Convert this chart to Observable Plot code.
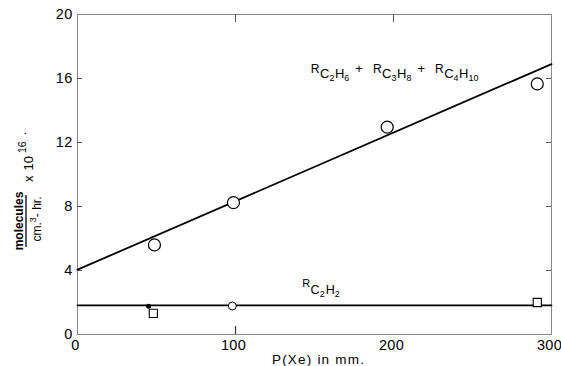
<!DOCTYPE html>
<html><head><meta charset="utf-8">
<script src="https://cdn.jsdelivr.net/npm/d3@7"></script>
<script src="https://cdn.jsdelivr.net/npm/@observablehq/plot@0.6"></script>
<style>body{margin:0;background:#fff} svg{display:block}</style>
</head><body><div id="chart"></div>
<script>
// ---- data ----
const xTicks = [0, 100, 200, 300];
const yTicks = [0, 4, 8, 12, 16, 20];
const innerYTicks = [4, 8, 12, 16];
const bottomInnerTicks = [100];
const topInnerTicks = [100, 200];

// fitted lines (endpoints)
const fitTotalX = [0, 300];
const fitTotalY = [4.05, 16.9];
const fitC2H2X = [0, 300];
const fitC2H2Y = [1.82, 1.82];

// R(C2H6)+R(C3H8)+R(C4H10): open circles
const totalP = [48.7, 98.7, 196, 291];
const totalR = [5.6, 8.24, 12.96, 15.66];

// R(C2H2): open squares, small circle, filled dot
const c2h2SqP = [48, 291];
const c2h2SqR = [1.32, 2.0];
const c2h2CircP = [98];
const c2h2CircR = [1.78];
const c2h2DotP = [45];
const c2h2DotR = [1.76];

const xLabel = "P(Xe) in mm.";

// ---- build ----
const zip = (xs, ys) => xs.map((x, i) => ({x, y: ys[i]}));
const W = 561, H = 366;
const font = "'Liberation Sans', Arial, Helvetica, sans-serif";

const chart = Plot.plot({
  width: W, height: H,
  marginLeft: 77, marginRight: 10, marginTop: 14, marginBottom: 32,
  style: {fontFamily: font, background: "#fff", color: "#000"},
  x: {domain: [0, 300]},
  y: {domain: [0, 20]},
  marks: [
    Plot.frame({stroke: "#8a8a8a", strokeWidth: 1}),
    // inward ticks
    Plot.ruleY(innerYTicks, {y: d => d, insetRight: 469, stroke: "#555"}),
    Plot.ruleY(innerYTicks, {y: d => d, insetLeft: 469, stroke: "#555"}),
    Plot.ruleX(bottomInnerTicks, {x: d => d, insetTop: 312, stroke: "#333", strokeWidth: 1.2}),
    Plot.ruleX(topInnerTicks, {x: d => d, insetBottom: 312, stroke: "#555"}),
    Plot.axisX({ticks: xTicks, tickSize: 0, tickPadding: 5, fontSize: 14.5, dx: -2, label: null, tickFormat: d => String(d)}),
    Plot.axisY({ticks: yTicks, tickSize: 0, tickPadding: 5, fontSize: 14.5, label: null, tickFormat: d => String(d)}),
    Plot.text([xLabel], {frameAnchor: "bottom", dy: 25, dx: 4, fontSize: 13.5, text: d => d, lineAnchor: "middle"}),
    // fitted lines
    Plot.line(zip(fitTotalX, fitTotalY), {x: "x", y: "y", stroke: "#000", strokeWidth: 1.8}),
    Plot.line(zip(fitC2H2X, fitC2H2Y), {x: "x", y: "y", stroke: "#000", strokeWidth: 1.8}),
    // points
    Plot.dot(zip(totalP, totalR), {x: "x", y: "y", r: 6, stroke: "#000", fill: "#fff", strokeWidth: 1.2}),
    Plot.dot(zip(c2h2SqP, c2h2SqR), {x: "x", y: "y", symbol: "square", r: 4.6, stroke: "#000", fill: "#fff", strokeWidth: 1.1}),
    Plot.dot(zip(c2h2CircP, c2h2CircR), {x: "x", y: "y", r: 4, stroke: "#000", fill: "#fff", strokeWidth: 1}),
    Plot.dot(zip(c2h2DotP, c2h2DotR), {x: "x", y: "y", r: 2.5, fill: "#000"})
  ]
});

const svg = d3.select(chart);
svg.selectAll("text").style("letter-spacing", "0.3px");
svg.selectAll("text").filter(function() { return this.textContent === xLabel; })
  .style("letter-spacing", "1.2px");
const sx = chart.scale("x"), sy = chart.scale("y");

// subscripted reaction labels
function rateLabel(x0, y0, parts) {
  const t = svg.append("text")
    .attr("x", sx.apply(x0)).attr("y", sy.apply(y0))
    .attr("text-anchor", "start")
    .attr("font-family", font).attr("fill", "#000");
  let cur = 0;
  for (const p of parts) {
    const [s, off, size, gap] = p;
    t.append("tspan").attr("dy", off - cur).attr("dx", gap || 0)
      .attr("font-size", size).text(s);
    cur = off;
  }
}
const C = 13, S = 9, Rf = 12;
rateLabel(148, 16.29, [
  ["R", 0, Rf], ["C", 5, C, 0.5], ["2", 8, S], ["H", 5, C, 0.5], ["6", 8, S],
  ["+", 0, C, 6], ["R", 0, Rf, 10], ["C", 5, C, 0.5], ["3", 8, S], ["H", 5, C, 0.5], ["8", 8, S],
  ["+", 0, C, 6], ["R", 0, Rf, 10], ["C", 5, C, 0.5], ["4", 8, S], ["H", 5, C, 0.5], ["10", 8, S]
]);
rateLabel(142.5, 2.96, [
  ["R", 0, 11], ["C", 7, 12.5, 0.5], ["2", 10, S], ["H", 7, 12.5, 1], ["2", 10, S]
]);

// y-axis units label (rotated, each text placed with its own transform)
function vtext(x, y, anchor) {
  return svg.append("text")
    .attr("transform", `translate(${x},${y}) rotate(-90)`)
    .attr("text-anchor", anchor)
    .attr("font-family", font).attr("fill", "#000").attr("font-size", 12);
}
vtext(23, 221, "middle").attr("font-weight", "bold").text("molecules");
svg.append("line").attr("x1", 26).attr("x2", 26).attr("y1", 195).attr("y2", 247)
  .attr("stroke", "#000").attr("stroke-width", 1.3);
const t2 = vtext(41, 219, "middle");
t2.append("tspan").text("cm.");
t2.append("tspan").attr("dy", -5).attr("font-size", 9).text("3");
t2.append("tspan").attr("dy", 5).text("- hr.");
const t3 = vtext(33, 182, "start").attr("font-size", 13);
t3.append("tspan").text("x");
t3.append("tspan").attr("dx", 5).text("10");
t3.append("tspan").attr("dy", -7).attr("dx", 3).attr("font-size", 10.5).text("16");
t3.append("tspan").attr("dy", 0).attr("dx", 6).text(".");

document.getElementById("chart").appendChild(chart);
</script>
</body></html>
